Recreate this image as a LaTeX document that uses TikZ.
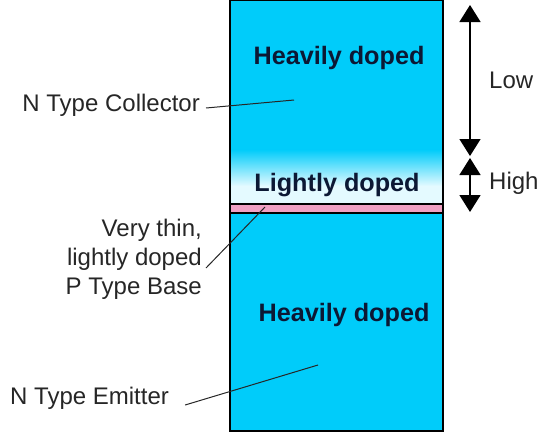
\documentclass[tikz,border=0pt]{standalone}
\usepackage{fontspec}
\setmainfont{Liberation Sans}
\usetikzlibrary{arrows.meta, positioning}

\definecolor{layercyan}{RGB}{0,204,250}
\definecolor{palecyan}{RGB}{228,250,255}
\definecolor{basepink}{RGB}{240,160,195}
\definecolor{dopetext}{RGB}{12,24,52}

\begin{document}
\begin{tikzpicture}[x=1pt, y=-1pt,
        %Styles
        Label/.style={text=black!85, font=\fontsize{24}{29}\selectfont, inner sep=0pt},
        Doping/.style={text=dopetext, font=\fontsize{25.2}{29}\selectfont\bfseries, inner sep=0pt},
        Leader/.style={draw=black!85, line width=1pt},
        Span/.style={line width=1.5pt,
            {Triangle[width=21pt,length=17pt]}-{Triangle[width=21pt,length=17pt]}}
    ]
\useasboundingbox (0,0) rectangle (540,439);

%transistor layers
\fill[layercyan] (230,0) rectangle (443,150);
\shade[top color=layercyan, bottom color=palecyan] (230,149.5) rectangle (443,186);
\fill[palecyan] (230,185.5) rectangle (443,204);
\fill[basepink] (230,204) rectangle (443,213);
\fill[layercyan] (230,213) rectangle (443,431);
\draw[line width=1.4pt] (230,0.7) rectangle (443,431);
\draw[line width=1.4pt] (230,204) -- (443,204) (230,213) -- (443,213);

%doping levels
\node[Doping] (heavyC) at (339,58) {Heavily doped};
\node[Doping] (light) at (337,185) {Lightly doped};
\node[Doping] (heavyE) at (344,315) {Heavily doped};

%region labels
\node[Label, anchor=east] (coll) at (200,105) {N Type Collector};
\node[Label, anchor=east, align=right] (base) at (202,259) {Very thin,\\lightly doped\\P Type Base};
\node[Label, anchor=west] (emit) at (10,398) {N Type Emitter};

\coordinate (collPt) at (294,100);
\coordinate (basePt) at (265,207);
\coordinate (emitPt) at (318,365);

\draw[Leader] ([shift={(6,3)}]coll.east) -- (collPt);
\draw[Leader] ([shift={(4,9)}]base.east) -- (basePt);
\draw[Leader] ([shift={(16,7)}]emit.east) -- (emitPt);

%resistance arrows
\coordinate (lowTop) at (470,5);
\coordinate (lowBot) at (470,156);
\coordinate (highTop) at (470,158);
\coordinate (highBot) at (470,212);
\draw[Span] (lowTop) -- (lowBot);
\draw[Span] (highTop) -- (highBot);

\node[Label, anchor=west] (low) at (489,80) {Low};
\node[Label, anchor=west] (high) at (489,183) {High};

\end{tikzpicture}
\end{document}
